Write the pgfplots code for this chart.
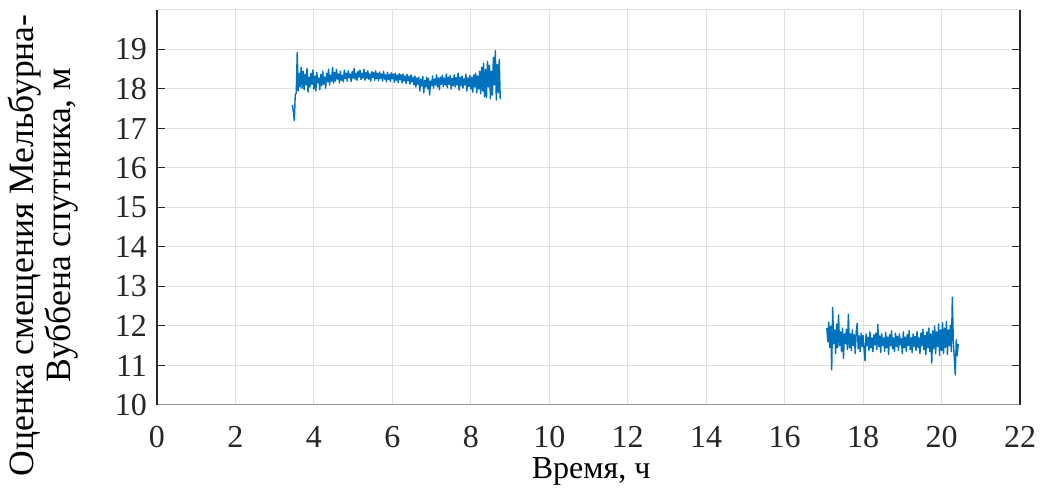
\documentclass[border=0pt]{standalone}
\usepackage{fontspec}
\setmainfont{Liberation Serif}
\usepackage{pgfplots}
\pgfplotsset{compat=1.18}
\definecolor{mblue}{RGB}{0,114,189}
\definecolor{axdark}{RGB}{38,38,38}
\definecolor{gridc}{RGB}{223,223,223}
\begin{document}
\begin{tikzpicture}
\path[use as bounding box] (-78.5pt,-43pt) rectangle (443pt,202.5pt);
\begin{axis}[
  scale only axis,
  width=431.5pt, height=197.5pt,
  xmin=0, xmax=22, ymin=10, ymax=20,
  xtick={0,2,...,22}, ytick={10,11,...,19},
  xticklabels={\textrm{0},\textrm{2},\textrm{4},\textrm{6},\textrm{8},\textrm{10},\textrm{12},\textrm{14},\textrm{16},\textrm{18},\textrm{20},\textrm{22}},
  yticklabels={\textrm{10},\textrm{11},\textrm{12},\textrm{13},\textrm{14},\textrm{15},\textrm{16},\textrm{17},\textrm{18},\textrm{19}},
  grid=major,
  major grid style={gridc, line width=0.5pt},
  axis line style={draw=none},
  tick align=inside,
  major tick length=4pt,
  ytick style={axdark, line width=0.5pt},
  xtick style={draw=none},
  tick label style={font=\rmfamily\fontsize{16}{19}\selectfont, text=axdark},
  yticklabel style={xshift=-1.5pt},
  xticklabel style={yshift=-7pt},
  xlabel={Время, ч},
  xlabel style={font=\fontsize{16}{19}\selectfont, at={(axis description cs:0.503,-0.168)}, anchor=center},
  ylabel={Оценка смещения Мельбурна-\\\hspace*{20pt}Вуббена спутника, м},
  ylabel style={font=\fontsize{17.8}{18.5}\selectfont, at={(axis description cs:-0.1315,0.404)}, anchor=center, align=center},
  clip=false,
]
\draw[gridc, line width=0.5pt] (rel axis cs:0,1) -- (rel axis cs:1,1);
\draw[gray!80, line width=0.5pt] (rel axis cs:0,0) -- (rel axis cs:1,0);
\draw[axdark, line width=0.6pt] (rel axis cs:0,0) -- (rel axis cs:0,1);
\draw[axdark, line width=0.6pt] (rel axis cs:1,0) -- (rel axis cs:1,1);
\addplot[mblue, line width=0.7pt, line join=round] coordinates {
(3.450,17.60) (3.475,17.45) (3.500,17.20) (3.525,17.85) (3.550,17.90) (3.575,18.93) (3.600,17.95) (3.625,18.40) (3.650,18.05) (3.675,18.55)
(3.700,18.02) (3.725,18.45) (3.750,17.98) (3.775,18.38) (3.800,18.10) (3.825,18.52) (3.850,17.92) (3.875,18.30) (3.900,18.05) (3.925,18.40)
(3.950,18.12) (3.975,18.48) (4.000,18.00) (4.025,18.33) (4.050,17.95) (4.075,18.42) (4.100,18.15) (4.125,18.28) (4.150,17.98) (4.175,18.37)
(4.200,18.08) (4.225,18.45) (4.250,18.12) (4.275,18.30) (4.300,18.02) (4.325,18.40) (4.350,18.18) (4.375,18.50) (4.400,18.10) (4.425,18.35)
(4.450,18.20) (4.475,18.55) (4.500,18.15) (4.525,18.42) (4.550,18.20) (4.575,18.50) (4.600,18.25) (4.625,18.38) (4.650,18.15) (4.675,18.45)
(4.700,18.22) (4.725,18.35) (4.750,18.18) (4.775,18.48) (4.800,18.26) (4.825,18.40) (4.850,18.20) (4.875,18.46) (4.900,18.28) (4.925,18.38)
(4.950,18.19) (4.975,18.44) (5.000,18.27) (5.025,18.52) (5.050,18.25) (5.075,18.40) (5.100,18.22) (5.125,18.45) (5.150,18.30) (5.175,18.48)
(5.200,18.24) (5.225,18.40) (5.250,18.28) (5.275,18.50) (5.300,18.22) (5.325,18.42) (5.350,18.27) (5.375,18.46) (5.400,18.25) (5.425,18.38)
(5.450,18.20) (5.475,18.44) (5.500,18.29) (5.525,18.42) (5.550,18.22) (5.575,18.46) (5.600,18.26) (5.625,18.40) (5.650,18.21) (5.675,18.43)
(5.700,18.27) (5.725,18.38) (5.750,18.20) (5.775,18.45) (5.800,18.25) (5.825,18.36) (5.850,18.18) (5.875,18.42) (5.900,18.24) (5.925,18.37)
(5.950,18.19) (5.975,18.41) (6.000,18.26) (6.025,18.38) (6.050,18.17) (6.075,18.40) (6.100,18.22) (6.125,18.35) (6.150,18.16) (6.175,18.39)
(6.200,18.23) (6.225,18.36) (6.250,18.15) (6.275,18.38) (6.300,18.20) (6.325,18.33) (6.350,18.14) (6.375,18.37) (6.400,18.21) (6.425,18.32)
(6.450,18.12) (6.475,18.36) (6.500,18.18) (6.525,18.30) (6.550,18.10) (6.575,18.33) (6.600,18.05) (6.625,18.28) (6.650,18.12) (6.675,18.30)
(6.700,17.95) (6.725,18.25) (6.750,18.08) (6.775,18.32) (6.800,17.90) (6.825,18.22) (6.850,18.05) (6.875,18.30) (6.900,18.00) (6.925,18.27)
(6.950,17.85) (6.975,18.20) (7.000,18.08) (7.025,18.33) (7.050,18.02) (7.075,18.25) (7.100,18.10) (7.125,18.36) (7.150,18.05) (7.175,18.28)
(7.200,17.98) (7.225,18.30) (7.250,18.12) (7.275,18.35) (7.300,18.06) (7.325,18.28) (7.350,18.10) (7.375,18.38) (7.400,18.03) (7.425,18.30)
(7.450,18.12) (7.475,18.34) (7.500,18.00) (7.525,18.27) (7.550,18.08) (7.575,18.36) (7.600,18.05) (7.625,18.29) (7.650,18.10) (7.675,18.40)
(7.700,17.97) (7.725,18.30) (7.750,18.08) (7.775,18.33) (7.800,18.02) (7.825,18.26) (7.850,18.10) (7.875,18.38) (7.900,17.95) (7.925,18.28)
(7.950,18.06) (7.975,18.35) (8.000,18.00) (8.025,18.30) (8.050,17.92) (8.075,18.36) (8.100,18.05) (8.125,18.40) (8.150,17.90) (8.175,18.33)
(8.200,18.00) (8.225,18.45) (8.250,17.88) (8.275,18.55) (8.300,17.95) (8.325,18.65) (8.350,17.80) (8.375,18.50) (8.400,17.78) (8.425,18.70)
(8.450,18.05) (8.475,18.60) (8.500,17.75) (8.525,18.45) (8.550,17.85) (8.575,18.80) (8.600,18.10) (8.625,18.97) (8.650,17.72) (8.675,18.62)
(8.700,17.90) (8.725,18.75) (8.750,17.75)
};
\addplot[mblue, line width=0.7pt, line join=round] coordinates {
(17.075,11.95) (17.100,11.60) (17.125,12.10) (17.150,11.45) (17.175,12.00) (17.200,10.89) (17.225,12.47) (17.250,11.55) (17.275,11.90) (17.300,11.30)
(17.325,12.05) (17.350,11.45) (17.375,12.28) (17.400,11.50) (17.425,11.85) (17.450,11.35) (17.475,11.95) (17.500,11.18) (17.525,11.80) (17.550,11.55)
(17.575,11.92) (17.600,11.40) (17.625,12.30) (17.650,11.45) (17.675,11.80) (17.700,11.38) (17.725,11.90) (17.750,11.50) (17.775,11.78) (17.800,11.30)
(17.825,11.85) (17.850,12.07) (17.875,11.42) (17.900,11.75) (17.925,11.35) (17.950,11.82) (17.975,11.48) (18.000,11.76) (18.025,11.40) (18.050,11.12)
(18.075,11.80) (18.100,11.50) (18.125,11.72) (18.150,11.38) (18.175,11.85) (18.200,11.45) (18.225,11.70) (18.250,11.35) (18.275,11.78) (18.300,11.52)
(18.325,11.82) (18.350,11.40) (18.375,12.04) (18.400,11.48) (18.425,11.75) (18.450,11.33) (18.475,11.80) (18.500,11.50) (18.525,11.70) (18.550,11.36)
(18.575,11.84) (18.600,11.45) (18.625,11.72) (18.650,11.28) (18.675,11.78) (18.700,11.50) (18.725,11.88) (18.750,11.42) (18.775,11.70) (18.800,11.35)
(18.825,11.82) (18.850,11.48) (18.875,11.74) (18.900,11.38) (18.925,11.80) (18.950,11.52) (18.975,11.68) (19.000,11.30) (19.025,11.85) (19.050,11.45)
(19.075,11.72) (19.100,11.36) (19.125,11.78) (19.150,11.50) (19.175,11.88) (19.200,11.40) (19.225,11.70) (19.250,11.33) (19.275,11.80) (19.300,11.48)
(19.325,11.74) (19.350,11.38) (19.375,11.86) (19.400,11.45) (19.425,11.70) (19.450,11.30) (19.475,11.82) (19.500,11.50) (19.525,11.92) (19.550,11.40)
(19.575,11.76) (19.600,11.28) (19.625,11.85) (19.650,11.45) (19.675,11.95) (19.700,11.35) (19.725,11.80) (19.750,11.06) (19.775,11.88) (19.800,11.42)
(19.825,12.00) (19.850,11.30) (19.875,11.85) (19.900,11.48) (19.925,12.05) (19.950,11.25) (19.975,11.90) (20.000,11.38) (20.025,12.08) (20.050,11.30)
(20.075,11.95) (20.100,11.45) (20.125,12.11) (20.150,11.28) (20.175,11.90) (20.200,11.50) (20.225,12.02) (20.250,11.35) (20.275,12.73) (20.300,11.60)
(20.325,11.20) (20.350,10.76) (20.375,11.65) (20.400,11.25) (20.425,11.55)
};
\end{axis}
\end{tikzpicture}
\end{document}
